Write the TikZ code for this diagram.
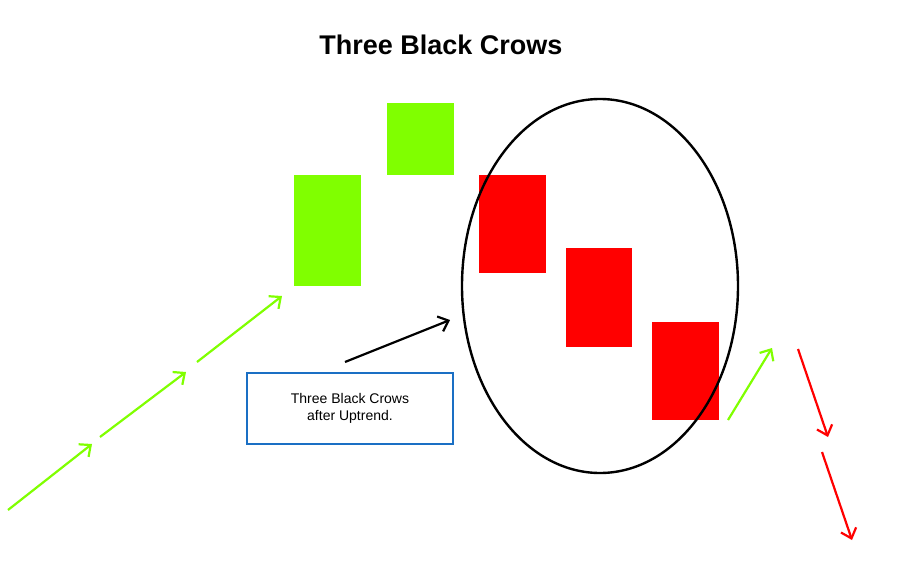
\documentclass[tikz,border=0pt]{standalone}
\usepackage{fontspec}
\setmainfont{Liberation Sans}
\usetikzlibrary{arrows.meta}
\definecolor{bull}{HTML}{80FF00}
\definecolor{bear}{HTML}{FF0000}
\definecolor{boxblue}{HTML}{1A6FC4}
\tikzset{
 bullbox/.style={fill=bull,draw=none},
 bearbox/.style={fill=bear,draw=none},
 arr/.style={line width=2.2pt,-{Straight Barb[length=9pt,width=16pt,line width=2.2pt]}},
}
\begin{document}
\begin{tikzpicture}[x=1pt,y=-1pt]
\useasboundingbox[fill=white] (0,0) rectangle (903,562);
\node[font=\bfseries\fontsize{27}{30}\selectfont] (title) at (441,45) {Three Black Crows};
\fill[bullbox] (294,175) rectangle (361,286);
\fill[bullbox] (387,103) rectangle (454,175);
\fill[bearbox] (479,175) rectangle (546,273);
\fill[bearbox] (566,248) rectangle (632,347);
\fill[bearbox] (652,322) rectangle (719,420);
\draw[line width=2.4pt] (600,286) ellipse [x radius=138, y radius=187];
\node[draw=boxblue,line width=1.3pt,minimum width=206pt,minimum height=71pt,align=center,font=\fontsize{14}{17}\selectfont] (lbl) at (350,408.5) {Three Black Crows\\after Uptrend.};
\coordinate (b1) at (345,362); \coordinate (b2) at (450,320);
\draw[arr,black] (b1) -- (b2);
\coordinate (g1) at (8,510); \coordinate (g2) at (92,444);
\coordinate (g3) at (100,437); \coordinate (g4) at (186,372);
\coordinate (g5) at (197,362); \coordinate (g6) at (282,296);
\coordinate (g7) at (728,420); \coordinate (g8) at (772,348);
\draw[arr,bull] (g1) -- (g2);
\draw[arr,bull] (g3) -- (g4);
\draw[arr,bull] (g5) -- (g6);
\draw[arr,bull] (g7) -- (g8);
\coordinate (r1) at (798,349); \coordinate (r2) at (828,437);
\coordinate (r3) at (822,452); \coordinate (r4) at (852,540);
\draw[arr,bear] (r1) -- (r2);
\draw[arr,bear] (r3) -- (r4);
\end{tikzpicture}
\end{document}
